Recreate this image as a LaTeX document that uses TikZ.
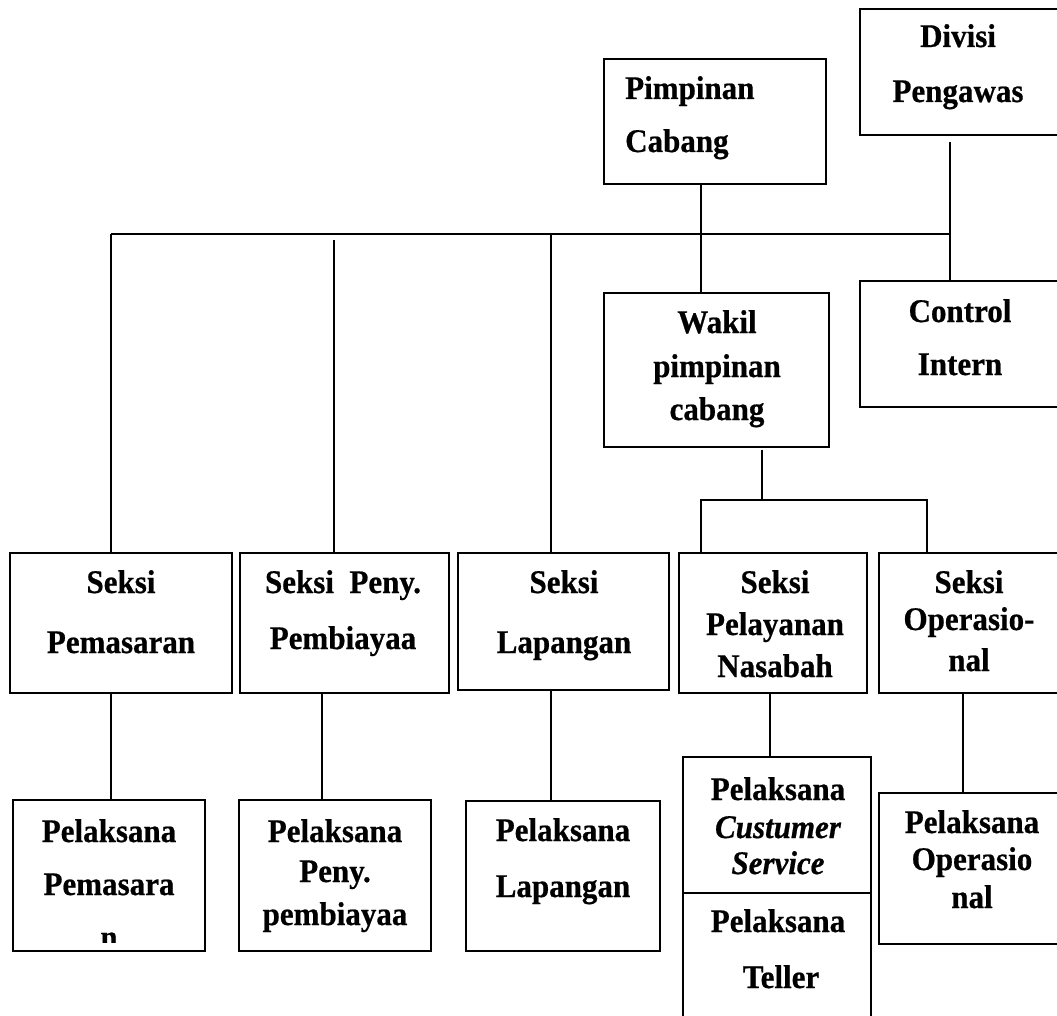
\documentclass[tikz,border=0pt]{standalone}
\usepackage{fontspec}
\setmainfont{Liberation Serif}[BoldFeatures={FakeStretch=0.94,FakeBold=0.6},BoldItalicFeatures={FakeStretch=0.94,FakeBold=0.6}]
\begin{document}
\begin{tikzpicture}[x=1pt,y=-1pt,
  box/.style={draw=black,line width=1.6pt,inner sep=0pt},
  conn/.style={draw=black,line width=1.6pt},
  txt/.style={inner sep=0pt,anchor=base,font=\fontsize{33}{39}\selectfont\bfseries},
  itxt/.style={txt,font=\fontsize{33}{39}\selectfont\bfseries\itshape}]
\useasboundingbox (0,0) rectangle (1057,1016);
% boxes
\node[box,minimum width=222,minimum height=125] (pc) at (715,121.5) {};
\node[box,minimum width=205,minimum height=126] (dp) at (962.5,72) {};
\node[box,minimum width=205,minimum height=126] (ci) at (962.5,344) {};
\node[box,minimum width=225,minimum height=154] (wk) at (716.5,370) {};
\node[box,minimum width=222,minimum height=140] (s1) at (121,623) {};
\node[box,minimum width=209,minimum height=140] (s2) at (344.5,623) {};
\node[box,minimum width=211,minimum height=137] (s3) at (563.5,621.5) {};
\node[box,minimum width=188,minimum height=140] (s4) at (773,623) {};
\node[box,minimum width=186,minimum height=140] (s5) at (972,623) {};
\node[box,minimum width=192,minimum height=151] (p1) at (109,875.5) {};
\node[box,minimum width=192,minimum height=151] (p2) at (335,875.5) {};
\node[box,minimum width=194,minimum height=150] (p3) at (563,876) {};
\node[box,minimum width=188,minimum height=136] (p4a) at (777,825) {};
\node[box,minimum width=188,minimum height=137] (p4b) at (777,961.5) {};
\node[box,minimum width=186,minimum height=151] (p5) at (972,868.5) {};
% texts
\node[txt,anchor=base west] (tpc1) at (625,99) {Pimpinan};
\node[txt,anchor=base west] (tpc2) at (625,152) {Cabang};
\node[txt] (tdp1) at (958,47) {Divisi};
\node[txt] (tdp2) at (958,102) {Pengawas};
\node[txt] (tci1) at (960,322) {Control};
\node[txt] (tci2) at (960,375) {Intern};
\node[txt] (twk1) at (717,333) {Wakil};
\node[txt] (twk2) at (717,377) {pimpinan};
\node[txt] (twk3) at (717,420) {cabang};
\node[txt] (ts11) at (121,593) {Seksi};
\node[txt] (ts12) at (121,653) {Pemasaran};
\node[txt] (ts21) at (343,593) {Seksi\ \ Peny.};
\node[txt] (ts22) at (343,649) {Pembiayaa};
\node[txt] (ts31) at (564,593) {Seksi};
\node[txt] (ts32) at (564,653) {Lapangan};
\node[txt] (ts41) at (775,593) {Seksi};
\node[txt] (ts42) at (775,635) {Pelayanan};
\node[txt] (ts43) at (775,677) {Nasabah};
\node[txt] (ts51) at (969,593) {Seksi};
\node[txt] (ts52) at (969,630) {Operasio-};
\node[txt] (ts53) at (969,671) {nal};
\node[txt] (tp11) at (109,842) {Pelaksana};
\node[txt] (tp12) at (109,895) {Pemasara};
\begin{scope}
\clip (13,800) rectangle (205,942);
\node[txt] (tp13) at (109,948) {n};
\end{scope}
\node[txt] (tp21) at (335,842) {Pelaksana};
\node[txt] (tp22) at (335,882) {Peny.};
\node[txt] (tp23) at (335,925) {pembiayaa};
\node[txt] (tp31) at (563,841) {Pelaksana};
\node[txt] (tp32) at (563,897) {Lapangan};
\node[txt] (tp41) at (778,800) {Pelaksana};
\node[itxt] (tp42) at (778,838) {Custumer};
\node[itxt] (tp43) at (778,874) {Service};
\node[txt] (tp44) at (778,932) {Pelaksana};
\node[txt] (tp45) at (781,988) {Teller};
\node[txt] (tp51) at (972,833) {Pelaksana};
\node[txt] (tp52) at (972,870) {Operasio};
\node[txt] (tp53) at (972,908) {nal};
% junction coordinates
\coordinate (h1) at (111,234);
\coordinate (h2) at (950,234);
\coordinate (jc) at (701,234);
\coordinate (b2) at (334,240);
\coordinate (b3) at (551,234);
\coordinate (d1) at (950,142);
\coordinate (w1) at (762,450);
\coordinate (w2) at (762,500);
\coordinate (l1) at (701,500);
\coordinate (l2) at (927,500);
\coordinate (a1) at (111,0);
\coordinate (a2) at (322,0);
\coordinate (a3) at (551,0);
\coordinate (a4) at (770,0);
\coordinate (a5) at (963,0);
% connectors
\draw[conn] (pc.south -| jc) -- (wk.north -| jc);
\draw[conn] (h1) -- (h2);
\draw[conn] (h1) -- (s1.north -| h1);
\draw[conn] (b2) -- (s2.north -| b2);
\draw[conn] (b3) -- (s3.north -| b3);
\draw[conn] (d1) -- (ci.north -| d1);
\draw[conn] (w1) -- (w2);
\draw[conn] (s4.north -| l1) -- (l1) -- (l2) -- (s5.north -| l2);
\draw[conn] (s1.south -| a1) -- (p1.north -| a1);
\draw[conn] (s2.south -| a2) -- (p2.north -| a2);
\draw[conn] (s3.south -| a3) -- (p3.north -| a3);
\draw[conn] (s4.south -| a4) -- (p4a.north -| a4);
\draw[conn] (s5.south -| a5) -- (p5.north -| a5);
\end{tikzpicture}
\end{document}
